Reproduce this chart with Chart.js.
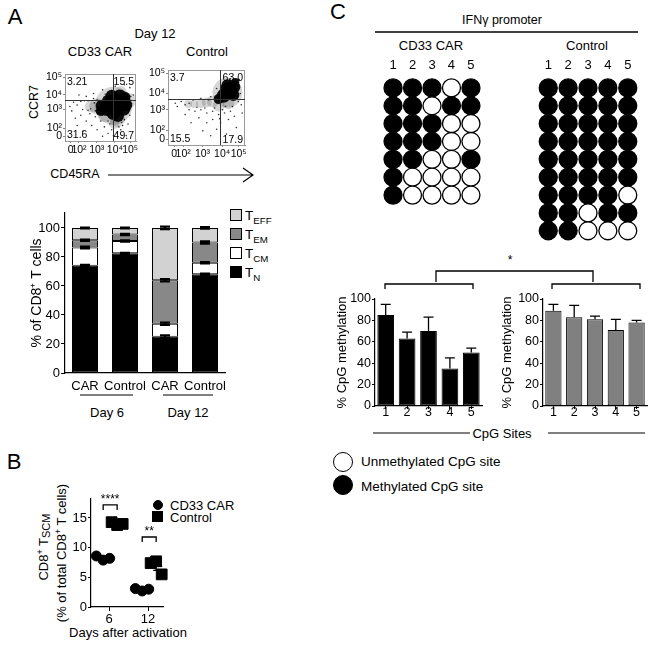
<!DOCTYPE html>
<html><head><meta charset="utf-8">
<script src="https://cdn.jsdelivr.net/npm/chart.js@4.4.1/dist/chart.umd.min.js"></script>
<style>
html,body{margin:0;padding:0;background:#fff}
body{width:654px;height:647px;position:relative;overflow:hidden;font-family:'Liberation Sans',Arial,Helvetica,sans-serif;color:#000}
canvas{position:absolute}
.t{position:absolute;transform:translate(-50%,-50%);white-space:nowrap;line-height:1}
.l{position:absolute;transform:translate(0,-50%);white-space:nowrap;line-height:1}
.r{position:absolute;transform:translate(-50%,-50%) rotate(-90deg);white-space:nowrap;line-height:1}
sub{font-size:72%;vertical-align:-0.4em;line-height:0}
sup{font-size:68%;vertical-align:0.5em;line-height:0}
.sq{position:absolute;width:10px;height:10px;border:1px solid #000}
.dot{position:absolute;border-radius:50%;border:1.5px solid #000;box-sizing:border-box}
</style></head><body>

<!-- panel letters and titles -->
<div class="t" style="left:15px;top:17px;font-size:22px">A</div>
<div class="t" style="left:14px;top:462px;font-size:22px">B</div>
<div class="t" style="left:338px;top:12px;font-size:22px">C</div>

<div class="t" style="left:155px;top:33px;font-size:13px">Day 12</div>
<div class="t" style="left:100px;top:51px;font-size:13px">CD33 CAR</div>
<div class="t" style="left:207px;top:51px;font-size:13px">Control</div>
<div class="r" style="left:34px;top:102px;font-size:12.5px">CCR7</div>
<div class="t" style="left:75px;top:174px;font-size:12.5px">CD45RA</div>

<!-- legend A -->
<div class="sq" style="left:230px;top:209px;background:#d2d2d2"></div>
<div class="sq" style="left:230px;top:228px;background:#888"></div>
<div class="sq" style="left:230px;top:247px;background:#fff"></div>
<div class="sq" style="left:230px;top:266px;background:#000"></div>
<div class="l" style="left:245px;top:216px;font-size:13.5px">T<sub>EFF</sub></div>
<div class="l" style="left:245px;top:235px;font-size:13.5px">T<sub>EM</sub></div>
<div class="l" style="left:245px;top:254px;font-size:13.5px">T<sub>CM</sub></div>
<div class="l" style="left:245px;top:273px;font-size:13.5px">T<sub>N</sub></div>

<div class="t" style="left:107px;top:412px;font-size:13px">Day 6</div>
<div class="t" style="left:188px;top:412px;font-size:13px">Day 12</div>

<!-- panel B texts -->
<div class="r" style="left:43px;top:547px;font-size:13px">CD8<sup>+</sup> T<sub style="font-size:85%;vertical-align:-0.2em">SCM</sub></div>
<div class="r" style="left:61px;top:553px;font-size:13px">(% of total CD8<sup>+</sup> T cells)</div>
<div class="t" style="left:128px;top:632px;font-size:13px">Days after activation</div>
<div class="dot" style="left:153px;top:500px;width:10px;height:10px;background:#000"></div>
<div style="position:absolute;left:152px;top:511px;width:11px;height:11px;background:#000"></div>
<div class="l" style="left:170px;top:505px;font-size:13px">CD33 CAR</div>
<div class="l" style="left:170px;top:517px;font-size:13px">Control</div>

<!-- panel C texts -->
<div class="t" style="left:502px;top:20px;font-size:12.5px">IFNγ promoter</div>
<div class="t" style="left:431px;top:45px;font-size:13px">CD33 CAR</div>
<div class="t" style="left:587px;top:45px;font-size:13px">Control</div>
<div class="t" style="left:510px;top:260px;font-size:12px">*</div>
<div class="t" style="left:502px;top:433px;font-size:13px">CpG Sites</div>
<div class="dot" style="left:333px;top:452px;width:20px;height:20px;background:#fff"></div>
<div class="dot" style="left:333px;top:475px;width:20px;height:20px;background:#000"></div>
<div class="l" style="left:361px;top:462px;font-size:13.5px">Unmethylated CpG site</div>
<div class="l" style="left:361px;top:487px;font-size:13.5px">Methylated CpG site</div>

<svg width="654" height="647" style="position:absolute;left:0;top:0;pointer-events:none" fill="none" stroke="#000">
  <path d="M108,175 H253 M243,168 L253,175 L243,182" stroke-width="1.2"/>
  <path d="M80,395 H133 M163,395 H213" stroke-width="1"/>
  <path d="M375,32 H638" stroke-width="1.5"/>
  <path d="M436,282 V271 H593 V282" stroke-width="1.3"/>
  <path d="M385,289 V284 H473 V289 M552,289 V284 H640 V289" stroke-width="1.3"/>
  <path d="M373,433 H470 M548,433 H645" stroke-width="1"/>
</svg>

<script>
// ===================== DATA =====================
// Panel A: flow cytometry (axis units = display decades)
const flowXTickVals = [1.64, 2.1, 3.08, 4.08, 4.92];
const flowXTickLabels = ['0', '10²', '10³', '10⁴', '10⁵'];
const flowYTickVals = [1.17, 1.72, 3.0, 4.0, 5.22];
const flowYTickLabels = ['0', '10²', '10³', '10⁴', '10⁵'];
const flowGateX = [3.95, 3.95];   // CD45RA gate (CAR, Control)
const flowGateY = [3.67, 3.67];   // CCR7 gate (CAR, Control)
const carQuadrants = ['3.21', '15.5', '31.6', '49.7'];   // UL, UR, LL, LR
const ctrlQuadrants = ['3.7', '63.0', '15.5', '17.9'];
const carDense = [{x:4.05,y:3.3,r:11},{x:3.65,y:3.1,r:8},{x:4.45,y:3.5,r:9},{x:4.35,y:3.9,r:7},{x:3.7,y:3.6,r:6},{x:4.55,y:3.05,r:7},{x:4.0,y:2.75,r:7},{x:3.35,y:3.25,r:6},{x:4.65,y:3.85,r:5},{x:3.3,y:2.9,r:5},{x:4.7,y:3.3,r:6},{x:4.25,y:2.55,r:6},{x:3.9,y:3.95,r:6}];
const carSparse = [{x:4.0,y:3.25,r:19},{x:3.1,y:3.2,r:8},{x:2.75,y:3.2,r:6},{x:4.2,y:2.35,r:8},{x:4.05,y:2.0,r:5},{x:4.8,y:3.6,r:8},{x:3.5,y:2.55,r:6},{x:4.4,y:4.2,r:6}];
const carEvents = [{x:2.0,y:3.3},{x:2.3,y:3.0},{x:1.8,y:3.5},{x:2.4,y:3.6},{x:2.2,y:2.6},{x:1.7,y:2.9},{x:2.7,y:2.7},{x:3.0,y:2.5},{x:3.3,y:2.2},{x:3.5,y:1.8},{x:3.9,y:1.6},{x:4.2,y:1.4},{x:4.5,y:1.9},{x:4.6,y:2.3},{x:4.0,y:1.2},{x:3.7,y:1.35},{x:2.8,y:1.9},{x:2.5,y:2.2},{x:3.1,y:1.6},{x:4.4,y:1.6},{x:4.9,y:2.6},{x:5.0,y:3.4},{x:5.1,y:4.0},{x:4.9,y:4.5},{x:4.6,y:4.7},{x:4.1,y:4.6},{x:3.4,y:4.35},{x:2.9,y:4.1},{x:2.5,y:3.9},{x:2.1,y:4.0},{x:1.6,y:3.2},{x:1.9,y:2.4},{x:3.2,y:2.8},{x:2.6,y:2.95},{x:4.8,y:2.0},{x:3.8,y:2.0},{x:3.4,y:1.15},{x:2.3,y:1.5},{x:4.7,y:1.2},{x:2.0,y:1.9},{x:2.6,y:3.6},{x:2.9,y:3.75},{x:3.0,y:2.9},{x:3.7,y:2.2},{x:4.3,y:1.8},{x:4.05,y:2.3},{x:3.4,y:2.6},{x:2.2,y:3.55},{x:2.95,y:3.45},{x:3.1,y:3.65},{x:2.75,y:3.05},{x:3.85,y:2.45},{x:4.45,y:2.1},{x:4.85,y:3.25},{x:4.95,y:3.9},{x:3.9,y:4.3},{x:3.55,y:4.05},{x:4.25,y:2.55}];
const ctrlDense = [{x:4.4,y:4.15,r:9},{x:4.7,y:4.4,r:6},{x:4.15,y:3.85,r:7},{x:4.65,y:3.9,r:6},{x:4.35,y:4.5,r:6},{x:3.9,y:3.65,r:5},{x:4.75,y:4.7,r:4}];
const ctrlSparse = [{x:4.35,y:4.05,r:15},{x:3.6,y:3.5,r:6},{x:3.3,y:3.45,r:5},{x:3.0,y:3.4,r:5},{x:2.65,y:3.35,r:4},{x:3.9,y:3.25,r:6},{x:4.4,y:3.4,r:6},{x:2.35,y:3.35,r:4}];
const ctrlEvents = [{x:2.2,y:3.3},{x:2.0,y:3.5},{x:1.8,y:3.2},{x:2.4,y:3.0},{x:2.7,y:2.9},{x:3.0,y:3.0},{x:3.3,y:2.8},{x:3.6,y:2.9},{x:3.9,y:2.7},{x:4.2,y:2.8},{x:4.5,y:2.9},{x:3.6,y:2.4},{x:4.0,y:2.2},{x:4.4,y:2.4},{x:4.7,y:2.6},{x:3.3,y:2.2},{x:2.9,y:2.5},{x:2.2,y:2.7},{x:1.7,y:3.4},{x:3.8,y:1.8},{x:4.3,y:1.5},{x:4.8,y:1.9},{x:3.1,y:1.7},{x:2.5,y:2.2},{x:4.6,y:1.3},{x:3.5,y:1.4},{x:4.0,y:3.95},{x:3.5,y:3.8},{x:3.0,y:3.7},{x:2.6,y:3.6},{x:5.05,y:3.3},{x:5.1,y:2.8},{x:2.4,y:3.4},{x:2.8,y:3.15},{x:3.2,y:3.1},{x:3.7,y:3.1},{x:4.1,y:3.0},{x:4.6,y:3.2},{x:4.9,y:3.5},{x:3.4,y:3.6},{x:5.0,y:4.0},{x:4.95,y:4.85},{x:4.5,y:4.9},{x:3.8,y:4.3},{x:3.95,y:2.45},{x:4.25,y:3.2}];

// Panel A: subsets (% of CD8+ T cells)
const subsetGroups = ['CAR', 'Control', 'CAR', 'Control'];
const tN   = [74, 82.5, 25, 68];
const tCM  = [12.5, 8.5, 9, 8];
const tEM  = [5, 4.5, 30, 14];
const tEFF = [8.5, 4.5, 36, 10];
const tNErr   = [0.5, 0.4, 0.9, 0.6];
const tCMErr  = [0.6, 0.4, 0.8, 0.4];
const tEMErr  = [0.4, 0.4, 0.8, 0.8];
const tEFFErr = [0.3, 0.3, 0.9, 0.5];
const pctTicks = [0, 20, 40, 60, 80, 100];

// Panel B: TSCM (% of total CD8+ T cells)
const days = [6, 12];
const carTscm  = [[8.6, 7.9, 8.2], [3.1, 2.7, 3.0]];
const ctrlTscm = [[14.3, 13.8, 14.0], [7.4, 7.7, 5.5]];
const tscmTicks = [0, 5, 10, 15];
const sigLabels = ['****', '**'];

// Panel C: bisulfite sequencing (1 = methylated)
const cpgSites = ['1', '2', '3', '4', '5'];
const carClones = [[1,1,1,0,1],[1,1,0,1,1],[1,1,1,0,0],[1,1,1,0,0],[1,1,0,0,1],[1,0,0,0,0],[1,0,0,0,0]];
const ctrlClones = [[1,1,1,1,1],[1,1,1,1,1],[1,1,1,1,1],[1,1,1,1,1],[1,1,1,1,1],[1,1,1,1,1],[1,1,1,1,0],[1,1,0,1,1],[1,1,0,0,0]];
const carCpG = [85, 63, 70, 35, 50];
const carCpGErr = [10, 6, 13, 10, 4];
const ctrlCpG = [89, 83, 81, 71, 78];
const ctrlCpGErr = [6, 11, 3, 10, 2];

// ===================== LAYOUT / STYLE =====================
const FONT = "'Liberation Sans', Arial, Helvetica, sans-serif";
Chart.defaults.font.family = FONT;
Chart.defaults.color = '#000';
Chart.defaults.animation = false;
Chart.defaults.responsive = false;
Chart.defaults.maintainAspectRatio = false;
Chart.defaults.devicePixelRatio = 1;
Chart.defaults.events = [];
Chart.defaults.plugins.legend.display = false;
Chart.defaults.plugins.tooltip.enabled = false;

function mk(left, top, w, h) {
  const c = document.createElement('canvas');
  c.width = w; c.height = h;
  c.style.cssText = `left:${left}px;top:${top}px;width:${w}px;height:${h}px`;
  document.body.appendChild(c);
  return c;
}
const setTicks = vals => s => { s.ticks = vals.map(v => ({value: v})); };

// ---------- flow plots ----------
const quadPlugin = {
  id: 'quad',
  afterDraw(chart, args, o) {
    const {ctx, chartArea: a, scales: {x, y}} = chart;
    ctx.save();
    ctx.strokeStyle = '#999'; ctx.lineWidth = 1;
    ctx.strokeRect(Math.round(a.left) + 0.5, Math.round(a.top) + 0.5, Math.round(a.right - a.left) - 1, Math.round(a.bottom - a.top));
    const gx = Math.round(x.getPixelForValue(o.gx)) + 0.5, gy = Math.round(y.getPixelForValue(o.gy)) + 0.5;
    ctx.strokeStyle = '#333';
    ctx.beginPath(); ctx.moveTo(gx, a.top); ctx.lineTo(gx, a.bottom); ctx.moveTo(a.left, gy); ctx.lineTo(a.right, gy); ctx.stroke();
    ctx.fillStyle = '#000'; ctx.font = '10.5px ' + FONT;
    ctx.textBaseline = 'top';
    ctx.textAlign = 'left'; ctx.fillText(o.labels[0], a.left + 2, a.top + 3);
    ctx.textAlign = 'right'; ctx.fillText(o.labels[1], a.right - 2, a.top + 3);
    ctx.textBaseline = 'alphabetic';
    ctx.textAlign = 'left'; ctx.fillText(o.labels[2], a.left + 2, a.bottom - 3);
    ctx.textAlign = 'right'; ctx.fillText(o.labels[3], a.right - 2, a.bottom - 2);
    ctx.restore();
  }
};
function flowChart(canvas, dense, sparse, events, gx, gy, labels) {
  new Chart(canvas, {
    type: 'bubble',
    data: {datasets: [
      {data: sparse, backgroundColor: 'rgba(0,0,0,0.16)', borderWidth: 0},
      {data: dense, backgroundColor: 'rgba(0,0,0,0.94)', borderWidth: 0},
      {data: events.map(p => ({x: p.x, y: p.y, r: 0.8})), backgroundColor: 'rgba(0,0,0,0.8)', borderWidth: 0}
    ]},
    options: {
      layout: {padding: {top: 7, right: 8, left: 0, bottom: 0}},
      scales: {
        x: {type: 'linear', min: 1.33, max: 5.24, afterBuildTicks: setTicks(flowXTickVals),
            ticks: {autoSkip: false, maxRotation: 0, padding: 1, font: {size: 10.5}, callback: (v, i) => flowXTickLabels[i]},
            grid: {drawOnChartArea: false, tickLength: 2, color: '#888'}, border: {color: '#999'},
            afterFit: s => { s.height = 15; }},
        y: {type: 'linear', min: 0.83, max: 5.44, afterBuildTicks: setTicks(flowYTickVals),
            ticks: {autoSkip: false, padding: 1, font: {size: 10.5}, callback: (v, i) => flowYTickLabels[i]},
            grid: {drawOnChartArea: false, tickLength: 2, color: '#888'}, border: {color: '#999'},
            afterFit: s => { s.width = 35; }}
      },
      plugins: {quad: {gx, gy, labels}}
    },
    plugins: [quadPlugin]
  });
}
flowChart(mk(30, 55, 125, 105), carDense, carSparse, carEvents, flowGateX[0], flowGateY[0], carQuadrants);
flowChart(mk(133, 55, 127, 105), ctrlDense, ctrlSparse, ctrlEvents, flowGateX[1], flowGateY[1], ctrlQuadrants);

// ---------- stacked subsets ----------
const stackErr = {
  id: 'stackErr',
  afterDatasetsDraw(chart) {
    const ctx = chart.ctx, y = chart.scales.y;
    ctx.save(); ctx.strokeStyle = '#000'; ctx.lineWidth = 2.2;
    chart.data.labels.forEach((_, i) => {
      let cum = 0;
      chart.data.datasets.forEach((ds, di) => {
        cum += ds.data[i];
        const e = ds.errors[i], bar = chart.getDatasetMeta(di).data[i], hw = 5;
        const y1 = y.getPixelForValue(cum + e), y0 = y.getPixelForValue(cum - e);
        ctx.beginPath();
        ctx.moveTo(bar.x, y0); ctx.lineTo(bar.x, y1);
        ctx.moveTo(bar.x - hw, y1); ctx.lineTo(bar.x + hw, y1);
        ctx.moveTo(bar.x - hw, y0); ctx.lineTo(bar.x + hw, y0);
        ctx.stroke();
      });
    });
    ctx.restore();
  }
};
const barStyle = {borderColor: '#000', borderWidth: 1, borderSkipped: false, barPercentage: 0.65, categoryPercentage: 1};
new Chart(mk(20, 200, 215, 220), {
  type: 'bar',
  data: {labels: subsetGroups, datasets: [
    {label: 'TN', data: tN, errors: tNErr, backgroundColor: '#000', ...barStyle},
    {label: 'TCM', data: tCM, errors: tCMErr, backgroundColor: '#fff', ...barStyle},
    {label: 'TEM', data: tEM, errors: tEMErr, backgroundColor: '#888', ...barStyle},
    {label: 'TEFF', data: tEFF, errors: tEFFErr, backgroundColor: '#d2d2d2', ...barStyle}
  ]},
  options: {
    layout: {padding: {top: 13, right: 10, left: 0, bottom: 0}},
    scales: {
      x: {stacked: true, ticks: {font: {size: 13}, padding: 6, autoSkip: false, maxRotation: 0},
          grid: {display: false, drawTicks: false}, border: {color: '#000', width: 1.2},
          afterFit: s => { s.height = 47; }},
      y: {stacked: true, min: 0, max: 110.3, afterBuildTicks: setTicks(pctTicks),
          ticks: {font: {size: 13}, padding: 1},
          grid: {drawOnChartArea: false, tickLength: 4, color: '#000'}, border: {color: '#000', width: 1.2},
          title: {display: true, text: '% of CD8⁺ T cells', font: {size: 14}, padding: {top: 9, bottom: 0}},
          afterFit: s => { s.width = 45; }}
    }
  },
  plugins: [stackErr]
});

// ---------- panel B ----------
const JIT_CAR = [-1.95, -0.9, 0.1], JIT_CTRL = [0.4, 1.25, 2.1];
const meanPlugin = {
  id: 'meanSem',
  afterDatasetsDraw(chart) {
    const {ctx, scales: {x, y}} = chart;
    ctx.save(); ctx.strokeStyle = '#000'; ctx.lineWidth = 1.3;
    chart.data.datasets.forEach((ds, di) => {
      const jit = di === 0 ? JIT_CAR : JIT_CTRL;
      const src = di === 0 ? carTscm : ctrlTscm;
      days.forEach((d, k) => {
        const v = src[k], n = v.length, m = v.reduce((a, b) => a + b, 0) / n;
        const sem = Math.sqrt(v.reduce((a, b) => a + (b - m) ** 2, 0) / (n - 1) / n);
        const cx = x.getPixelForValue(d + jit[1]);
        const ym = y.getPixelForValue(m), yt = y.getPixelForValue(m + sem), yb = y.getPixelForValue(m - sem);
        ctx.beginPath();
        ctx.moveTo(cx - 6, ym); ctx.lineTo(cx + 6, ym);
        ctx.moveTo(cx, yt); ctx.lineTo(cx, yb);
        ctx.moveTo(cx - 3, yt); ctx.lineTo(cx + 3, yt);
        ctx.moveTo(cx - 3, yb); ctx.lineTo(cx + 3, yb);
        ctx.stroke();
      });
    });
    // significance brackets between groups
    const br = [{d: days[0], yv: 17.2}, {d: days[1], yv: 11.8}];
    ctx.font = '12px ' + FONT; ctx.fillStyle = '#000'; ctx.textAlign = 'center'; ctx.textBaseline = 'alphabetic';
    br.forEach((b, k) => {
      const x1 = x.getPixelForValue(b.d + JIT_CAR[1]), x2 = x.getPixelForValue(b.d + JIT_CTRL[1]);
      const yy = y.getPixelForValue(b.yv), drop = 5;
      ctx.beginPath(); ctx.moveTo(x1, yy + drop); ctx.lineTo(x1, yy); ctx.lineTo(x2, yy); ctx.lineTo(x2, yy + drop); ctx.stroke();
      ctx.fillText(sigLabels[k], (x1 + x2) / 2, yy - 2);
    });
    ctx.restore();
  }
};
new Chart(mk(40, 490, 135, 135), {
  type: 'scatter',
  data: {datasets: [
    {label: 'CD33 CAR', data: days.flatMap((d, k) => carTscm[k].map((v, j) => ({x: d + JIT_CAR[j], y: v}))),
     pointStyle: 'circle', pointRadius: 5, backgroundColor: '#000', borderColor: '#000'},
    {label: 'Control', data: days.flatMap((d, k) => ctrlTscm[k].map((v, j) => ({x: d + JIT_CTRL[j], y: v}))),
     pointStyle: 'rect', pointRadius: 7.6, backgroundColor: '#000', borderColor: '#000'}
  ]},
  options: {
    clip: false,
    layout: {padding: {top: 9, right: 12, left: 0, bottom: 0}},
    scales: {
      x: {type: 'linear', min: 3.23, max: 14.3, afterBuildTicks: setTicks(days),
          ticks: {font: {size: 13}, padding: 1},
          grid: {drawOnChartArea: false, tickLength: 4, color: '#000'}, border: {color: '#000', width: 1.2},
          afterFit: s => { s.height = 18; }},
      y: {type: 'linear', min: 0, max: 18.2, afterBuildTicks: setTicks(tscmTicks),
          ticks: {font: {size: 13}, padding: 1},
          grid: {drawOnChartArea: false, tickLength: 3, color: '#000'}, border: {color: '#000', width: 1.2},
          afterFit: s => { s.width = 51; }}
    }
  },
  plugins: [meanPlugin]
});

// ---------- panel C: clone matrices ----------
function cloneChart(canvas, clones) {
  const pts = [], fills = [];
  clones.forEach((row, r) => row.forEach((v, c) => { pts.push({x: c + 1, y: r + 1}); fills.push(v ? '#000' : '#fff'); }));
  new Chart(canvas, {
    type: 'scatter',
    data: {datasets: [{data: pts, pointRadius: 9, pointBorderWidth: 1.3, pointBackgroundColor: fills, pointBorderColor: '#000'}]},
    options: {
      clip: false,
      layout: {padding: {top: 0, right: 10, left: 10, bottom: 3}},
      scales: {
        x: {type: 'linear', position: 'top', min: 0.5, max: 5.5, afterBuildTicks: setTicks(cpgSites.map(Number)),
            ticks: {font: {size: 13}, padding: 6, callback: (v, i) => cpgSites[i]},
            grid: {display: false, drawTicks: false}, border: {display: false},
            afterFit: s => { s.height = 21; }},
        y: {type: 'linear', min: 0.5, max: 9.5, reverse: true, display: false}
      }
    }
  });
}
cloneChart(mk(373, 58, 118, 192), carClones);
cloneChart(mk(528, 58, 120, 192), ctrlClones);

// ---------- panel C: CpG methylation bars ----------
const upErr = {
  id: 'upErr',
  afterDatasetsDraw(chart) {
    const ctx = chart.ctx, y = chart.scales.y, ds = chart.data.datasets[0];
    ctx.save(); ctx.strokeStyle = '#000'; ctx.lineWidth = 1.3;
    chart.getDatasetMeta(0).data.forEach((bar, i) => {
      const top = y.getPixelForValue(ds.data[i] + ds.errors[i]);
      ctx.beginPath(); ctx.moveTo(bar.x, bar.y); ctx.lineTo(bar.x, top);
      ctx.moveTo(bar.x - 5, top); ctx.lineTo(bar.x + 5, top); ctx.stroke();
    });
    ctx.restore();
  }
};
function cpgChart(canvas, vals, errs, color, rightPad, titlePad) {
  new Chart(canvas, {
    type: 'bar',
    data: {labels: cpgSites, datasets: [{data: vals, errors: errs, backgroundColor: color, borderColor: '#000', borderWidth: 1, borderSkipped: false, barPercentage: 0.78, categoryPercentage: 1}]},
    options: {
      layout: {padding: {top: 14, right: rightPad, left: 0, bottom: 0}},
      scales: {
        x: {ticks: {font: {size: 12.5}, padding: -4},
            grid: {display: true, drawOnChartArea: false, tickLength: 3, color: '#000', offset: false},
            border: {color: '#000', width: 1.2},
            afterFit: s => { s.height = 19; }},
        y: {min: 0, max: 100, afterBuildTicks: setTicks(pctTicks),
            ticks: {font: {size: 12.5}, padding: 1},
            grid: {drawOnChartArea: false, tickLength: 3, color: '#000'}, border: {color: '#000', width: 1.2},
            title: {display: true, text: '% CpG methylation', font: {size: 13}, padding: {top: titlePad, bottom: 0}},
            afterFit: s => { s.width = 55; }}
      }
    },
    plugins: [upErr]
  });
}
cpgChart(mk(320, 285, 170, 140), carCpG, carCpGErr, '#000', 8, 15);
cpgChart(mk(488, 285, 165, 140), ctrlCpG, ctrlCpGErr, '#808080', 6, 12);
</script>
</body></html>
